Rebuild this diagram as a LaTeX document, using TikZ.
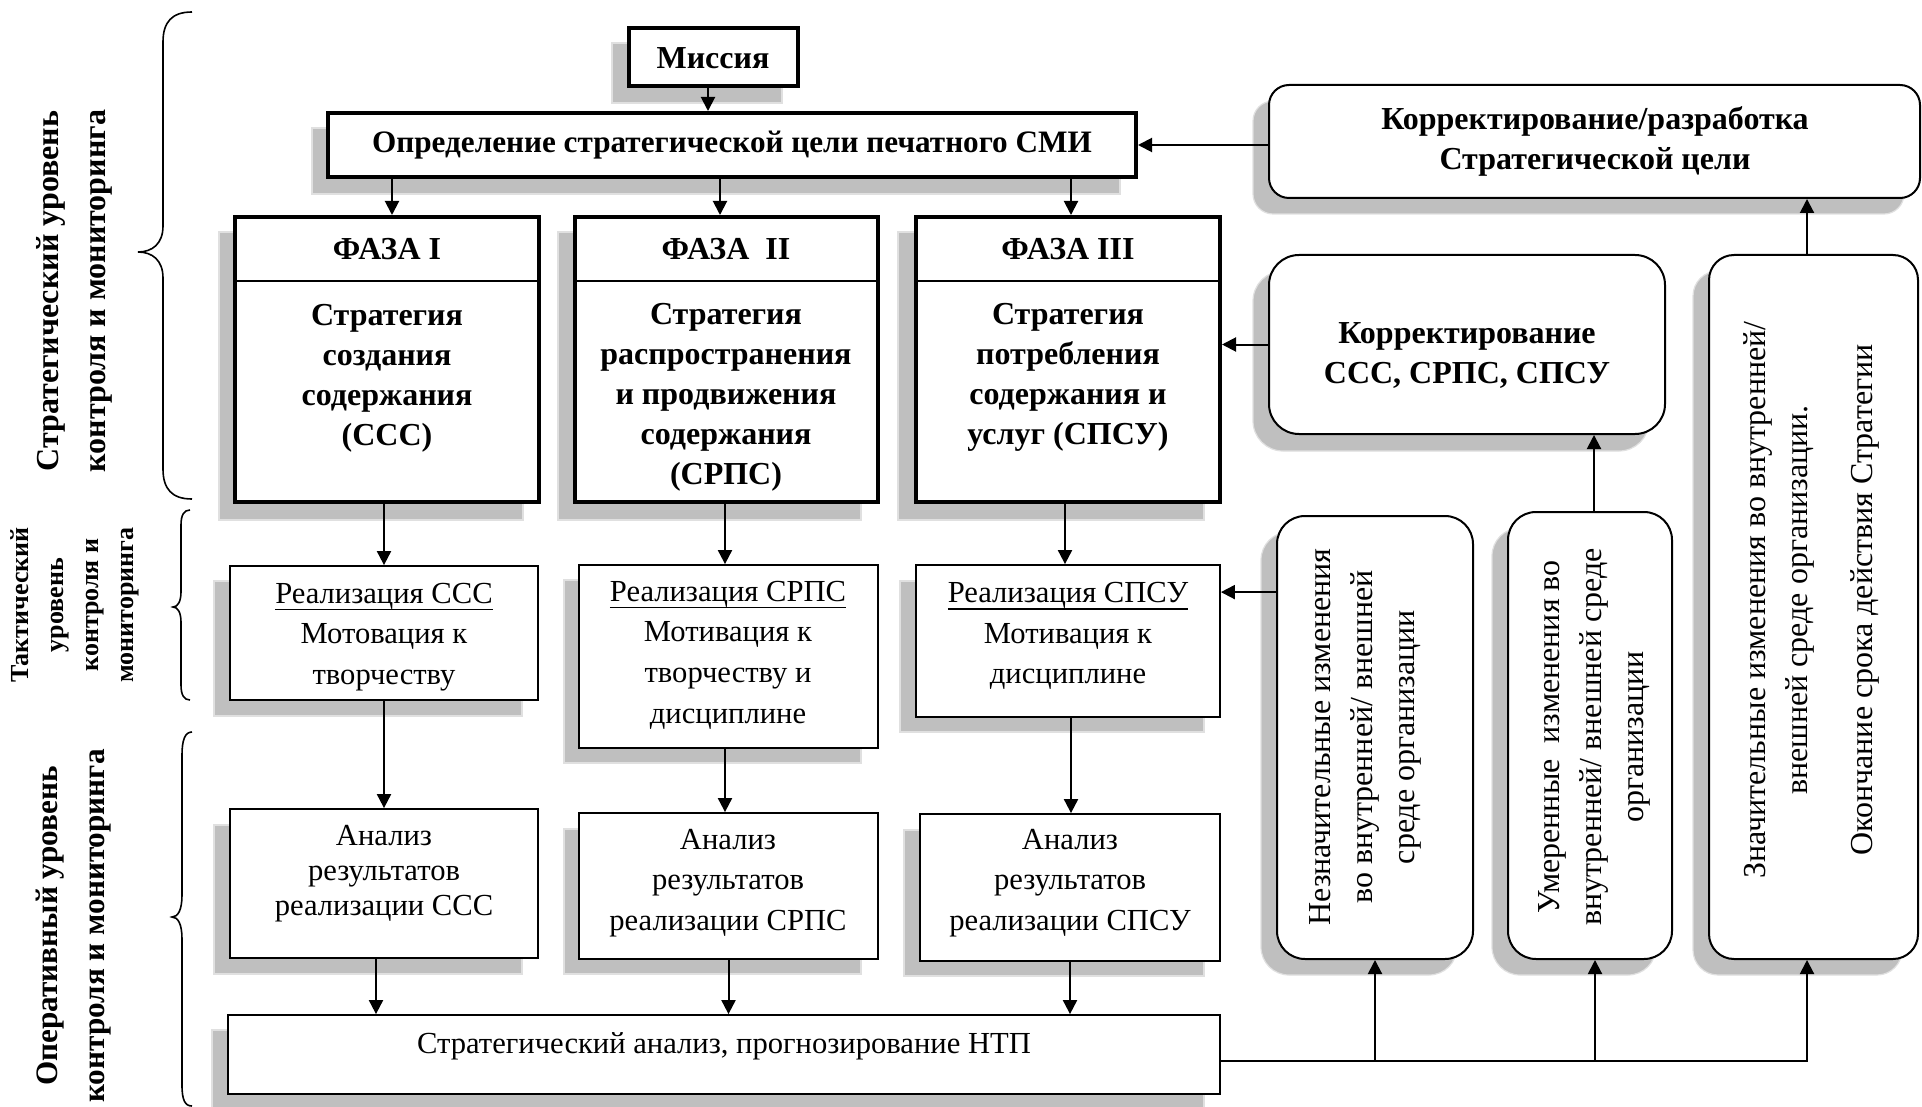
\documentclass[tikz,border=0pt]{standalone}
\usepackage{fontspec}
\setmainfont{Liberation Serif}
\usetikzlibrary{arrows.meta,fit}
% underline set a little below the baseline
\newcommand\ulinetext[1]{\setbox0\hbox{#1}\rlap{\rule[-3.6pt]{\wd0}{0.75pt}}\box0}
\begin{document}
\begin{tikzpicture}[x=0.5pt,y=-0.5pt,
  dropfill/.style={fill=black!25, draw=black!12, line width=0.6pt},
  heavy/.style={draw, line width=2pt, fill=white, inner sep=0pt},
  plain/.style={draw, line width=0.9pt, fill=white, inner sep=0pt},
  soft/.style={draw, line width=1pt, fill=white, inner sep=0pt, rounded corners=#1},
  arr/.style={-{Triangle[length=7pt,width=7pt]}, line width=1pt},
  bt/.style={font=\fontsize{16}{20}\selectfont\bfseries, align=center, inner sep=0pt},
  rt/.style={font=\fontsize{15.3}{20.3}\selectfont, align=center, inner sep=0pt},
  vt/.style={font=\fontsize{16}{21}\selectfont, align=center, inner sep=0pt, rotate=90},
  lab/.style={font=\fontsize{16}{23.5}\selectfont\bfseries, align=center, inner sep=0pt, rotate=90},
  curly/.style={line width=0.8pt},
]
\useasboundingbox (0,0) rectangle (1922,1107);

% ---------- drop shadows ----------
\path[dropfill] (612,43) rectangle (782,103);
\path[dropfill] (312,128) rectangle (1120,194);
\path[dropfill] (219,232) rectangle (523,520);
\path[dropfill] (558,232) rectangle (861,520);
\path[dropfill] (898,232) rectangle (1204,520);
\path[dropfill] (214,581) rectangle (522,716);
\path[dropfill] (564,580) rectangle (861,763);
\path[dropfill] (900,581) rectangle (1204,732);
\path[dropfill] (214,825) rectangle (522,974);
\path[dropfill] (564,829) rectangle (861,974);
\path[dropfill] (904,830) rectangle (1204,976);
\path[dropfill] (212,1030) rectangle (1204,1112);
\path[dropfill, rounded corners=10pt] (1253,101) rectangle (1904,214);
\path[dropfill, rounded corners=15pt] (1253,271) rectangle (1649,451);
\path[dropfill, rounded corners=14pt] (1261,532) rectangle (1457,975);
\path[dropfill, rounded corners=14pt] (1492,528) rectangle (1656,975);
\path[dropfill, rounded corners=12.5pt] (1693,271) rectangle (1902,975);

% ---------- boxes ----------
\node[heavy, fit={(629,28) (798,86)}] (mis) {};
\node[heavy, fit={(328,113) (1136,177)}] (opr) {};
\node[heavy, fit={(235,217) (539,502)}] (f1) {};
\node[heavy, fit={(575,217) (878,502)}] (f2) {};
\node[heavy, fit={(916,217) (1220,502)}] (f3) {};
\foreach \b in {f1,f2,f3}
  \draw[line width=1pt] ([yshift=-33pt]\b.north west) -- ([yshift=-33pt]\b.north east);

\node[plain, fit={(230,566) (538,700)}] (r1) {};
\node[plain, fit={(579,565) (878,748)}] (r2) {};
\node[plain, fit={(916,565) (1220,717)}] (r3) {};
\node[plain, fit={(230,809) (538,958)}] (a1) {};
\node[plain, fit={(579,813) (878,959)}] (a2) {};
\node[plain, fit={(920,814) (1220,961)}] (a3) {};
\node[plain, fit={(228,1015) (1220,1094)}] (sa) {};

\node[soft=10pt, fit={(1269,85) (1920,198)}] (kr) {};
\node[soft=15pt, fit={(1269,255) (1665,434)}] (kc) {};
\node[soft=14pt, fit={(1277,516) (1473,959)}] (nz) {};
\node[soft=14pt, fit={(1508,512) (1672,959)}] (um) {};
\node[soft=12.5pt, fit={(1709,255) (1918,959)}] (zn) {};

% ---------- texts ----------
\node[bt] (mis-t) at (713,58) {Миссия};
\node[bt, font=\fontsize{15.6}{20}\selectfont\bfseries] (opr-t) at (732,145) {Определение стратегической цели печатного СМИ};
\node[bt] (f1h) at (387,249) {ФАЗА I};
\node[bt] (f2h) at (726,249) {ФАЗА~~II};
\node[bt] (f3h) at (1068,249) {ФАЗА III};
\node[bt] (f1b) at (387,378) {Стратегия\\создания\\содержания\\(ССС)};
\node[bt] (f2b) at (726,397) {Стратегия\\распространения\\и продвижения\\содержания\\(СРПС)};
\node[bt] (f3b) at (1068,377) {Стратегия\\потребления\\содержания и\\услуг (СПСУ)};

\node[rt] (r1t) at (384,637) {\ulinetext{Реализация ССС}\\Мотовация к\\творчеству};
\node[rt] (r2t) at (728,655) {\ulinetext{Реализация СРПС}\\Мотивация к\\творчеству и\\дисциплине};
\node[rt] (r3t) at (1068,636) {\ulinetext{Реализация СПСУ}\\Мотивация к\\дисциплине};
\node[rt, font=\fontsize{15.3}{17.5}\selectfont] (a1t) at (384,874) {Анализ\\результатов\\реализации ССС};
\node[rt] (a2t) at (728,883) {Анализ\\результатов\\реализации СРПС};
\node[rt] (a3t) at (1070,883) {Анализ\\результатов\\реализации СПСУ};
\node[rt] (sat) at (724,1046) {Стратегический анализ, прогнозирование НТП};

\node[bt] (krt) at (1595,141) {Корректирование/разработка\\Стратегической цели};
\node[bt] (kct) at (1467,355) {Корректирование\\ССС, СРПС, СПСУ};

\node[vt] (nzt) at (1365,737) {Незначительные изменения\\во внутренней/ внешней\\среде организации};
\node[vt] (umt) at (1594,737) {Умеренные~~изменения во\\внутренней/ внешней среде\\организации};
\node[vt] (znt) at (1811,600) {Значительные изменения во внутренней/\\внешней среде организации.\\[11.5pt]Окончание срока действия Стратегии};

% level labels
\node[lab] (lv1) at (74,291) {Стратегический уровень\\контроля и мониторинга};
\node[lab, font=\fontsize{13}{17.5}\selectfont\bfseries] (lv2) at (75,605) {Тактический\\уровень\\контроля и\\мониторинга};
\node[lab, font=\fontsize{15.6}{23.5}\selectfont\bfseries] (lv3) at (74,926) {Оперативный уровень\\контроля и мониторинга};

% braces
\draw[curly] (192,12) .. controls (172,12) and (163,22) .. (163,42) -- (163,226)
  .. controls (163,244) and (152,252) .. (138,252)
  .. controls (152,252) and (163,260) .. (163,278) -- (163,469)
  .. controls (163,489) and (172,499) .. (192,499);
\draw[curly] (190,510) .. controls (184,510) and (181,515) .. (181,525) -- (181,592)
  .. controls (181,601) and (178,607) .. (173,607)
  .. controls (178,607) and (181,613) .. (181,622) -- (181,685)
  .. controls (181,695) and (184,700) .. (190,700);
\draw[curly] (192,732) .. controls (185,732) and (182,740) .. (182,755) -- (182,895)
  .. controls (182,910) and (178,917) .. (172,917)
  .. controls (178,917) and (182,924) .. (182,939) -- (182,1085)
  .. controls (182,1100) and (185,1106) .. (192,1106);

% ---------- connectors ----------
\coordinate (m1) at ([xshift=-2.75pt]mis.south);
\draw[arr] (m1) -- (m1 |- opr.north);
\coordinate (p1) at ([xshift=2.5pt]f1.north);
\draw[arr] (opr.south -| p1) -- (p1);
\coordinate (p2) at ([xshift=-3.25pt]f2.north);
\draw[arr] (opr.south -| p2) -- (p2);
\coordinate (p3) at ([xshift=1.5pt]f3.north);
\draw[arr] (opr.south -| p3) -- (p3);

\draw[arr] (f1.south -| r1.north) -- (r1.north);
\coordinate (p5) at ([xshift=-1.75pt]r2.north);
\draw[arr] (f2.south -| p5) -- (p5);
\coordinate (p6) at ([xshift=-1.5pt]r3.north);
\draw[arr] (f3.south -| p6) -- (p6);

\draw[arr] (r1.south) -- (r1.south |- a1.north);
\coordinate (p8) at ([xshift=-1.75pt]r2.south);
\draw[arr] (p8) -- (p8 |- a2.north);
\coordinate (p9) at ([xshift=1.5pt]r3.south);
\draw[arr] (p9) -- (p9 |- a3.north);

\coordinate (q1) at ([xshift=-4pt]a1.south);
\draw[arr] (q1) -- (q1 |- sa.north);
\draw[arr] (a2.south) -- (a2.south |- sa.north);
\draw[arr] (a3.south) -- (a3.south |- sa.north);

\draw[arr] (kr.west |- opr.east) -- (opr.east);
\draw[arr] (kc.west) -- (kc.west -| f3.east);
\coordinate (n1) at ([yshift=-14pt]r3.north east);
\draw[arr] (n1 -| nz.west) -- (n1);
\coordinate (u1) at ([xshift=2pt]um.north);
\draw[arr] (u1) -- (u1 |- kc.south);
\coordinate (z1) at ([xshift=-3.25pt]zn.north);
\draw[arr] (z1) -- (z1 |- kr.south);

\coordinate (so) at ([yshift=-3.25pt]sa.east);
\coordinate (b2) at ([xshift=2.5pt]um.south);
\coordinate (b3) at ([xshift=-3.25pt]zn.south);
\draw[arr] (so) -| (b3);
\draw[arr] (so -| nz.south) -- (nz.south);
\draw[arr] (so -| b2) -- (b2);
\end{tikzpicture}
\end{document}
